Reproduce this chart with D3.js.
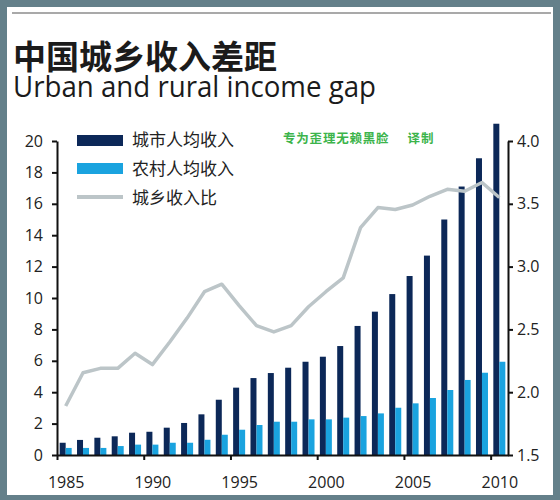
<!DOCTYPE html>
<html>
<head>
<meta charset="utf-8">
<script src="https://cdn.jsdelivr.net/npm/d3@7"></script>
<style>
  body { margin: 0; padding: 0; background: #fff; }
  text { font-family: "Open Sans", "Noto Sans", sans-serif; }
  .cjk { font-family: "Noto Sans CJK SC", sans-serif; }
</style>
</head>
<body>
<svg class="chart"></svg>
<script>
var years = [1985, 1986, 1987, 1988, 1989, 1990, 1991, 1992, 1993, 1994, 1995, 1996, 1997,
             1998, 1999, 2000, 2001, 2002, 2003, 2004, 2005, 2006, 2007, 2008, 2009, 2010];

// urban per capita income (thousand yuan)
var urban = [0.78, 0.96, 1.10, 1.19, 1.42, 1.48, 1.74, 2.04, 2.59, 3.52, 4.29, 4.90, 5.22,
             5.56, 5.94, 6.26, 6.94, 8.22, 9.13, 10.25, 11.4, 12.7, 15.0, 17.1, 18.9, 21.1];

// rural per capita income (thousand yuan)
var rural = [0.45, 0.45, 0.45, 0.57, 0.66, 0.66, 0.78, 0.78, 0.97, 1.29, 1.61, 1.91, 2.12,
             2.12, 2.27, 2.27, 2.38, 2.48, 2.65, 3.01, 3.29, 3.63, 4.14, 4.78, 5.24, 5.94];

// urban / rural ratio (right axis)
var ratio = [1.89, 2.155, 2.19, 2.19, 2.31, 2.22, 2.40, 2.59, 2.80, 2.86, 2.69, 2.53, 2.48,
             2.53, 2.68, 2.80, 2.91, 3.31, 3.47, 3.455, 3.49, 3.56, 3.615, 3.60, 3.67, 3.55];

var leftTicks = [0, 2, 4, 6, 8, 10, 12, 14, 16, 18, 20];
var rightTicks = [1.5, 2.0, 2.5, 3.0, 3.5, 4.0];
var yearTicks = [1985, 1990, 1995, 2000, 2005, 2010];

var seriesNames = ["城市人均收入", "农村人均收入", "城乡收入比"];

var screen = { width: 560, height: 500 };

var margins = { left: 57, right: 52, top: 141, bottom: 45 }; // plot area edges

var colors = {
  urban: "#0c2858",
  rural: "#1aa3df",
  ratio: "#bcc5c8",
  frame: "#64808a"
};

var svg = d3.select(".chart")
            .attr("width", screen.width)
            .attr("height", screen.height);

// frame
svg.append("rect")
   .attr("width", screen.width)
   .attr("height", screen.height)
   .attr("fill", colors.frame);

svg.append("rect")
   .attr("x", 7)
   .attr("y", 7)
   .attr("width", 546)
   .attr("height", 488)
   .attr("fill", "#fff");

svg.append("line")
   .attr("x1", 12).attr("x2", 551)
   .attr("y1", 13).attr("y2", 13)
   .attr("stroke", "#a9a9a9")
   .attr("stroke-width", 2);

// titles
svg.append("text")
   .classed("cjk", true)
   .attr("x", 13)
   .attr("y", 69)
   .attr("font-size", 33)
   .attr("font-weight", "bold")
   .attr("fill", "#1b1b1b")
   .text("中国城乡收入差距");

svg.append("text")
   .attr("x", 13)
   .attr("y", 97)
   .attr("font-size", 30)
   .attr("textLength", 363)
   .attr("lengthAdjust", "spacingAndGlyphs")
   .attr("fill", "#1b1b1b")
   .text("Urban and rural income gap");

// scales
var xScale = d3.scaleLinear()
               .domain([1985, 2011])
               .range([57, 508]);

var yScale = d3.scaleLinear()
               .domain([0, 20])
               .range([455, 141]);

var rScale = d3.scaleLinear()
               .domain([1.5, 4.0])
               .range([455, 141]);

var barW = 6;
var center = function(i) { return xScale(years[i] + 0.5); };

// bars
svg.append("g")
   .classed("urban", true)
   .selectAll("rect")
   .data(urban)
   .enter()
   .append("rect")
   .attr("x", function(d, i) { return center(i) - barW; })
   .attr("y", function(d) { return yScale(d); })
   .attr("width", barW)
   .attr("height", function(d) { return yScale(0) - yScale(d); })
   .attr("fill", colors.urban);

svg.append("g")
   .classed("rural", true)
   .selectAll("rect")
   .data(rural)
   .enter()
   .append("rect")
   .attr("x", function(d, i) { return center(i); })
   .attr("y", function(d) { return yScale(d); })
   .attr("width", barW)
   .attr("height", function(d) { return yScale(0) - yScale(d); })
   .attr("fill", colors.rural);

// ratio line
var line = d3.line()
             .x(function(d, i) { return center(i); })
             .y(function(d) { return rScale(d); });

svg.append("path")
   .datum(ratio)
   .attr("d", line)
   .attr("fill", "none")
   .attr("stroke", colors.ratio)
   .attr("stroke-width", 3.5)
   .attr("stroke-linejoin", "round");

// axes
var styleAxis = function(g) {
  g.selectAll(".domain, .tick line")
   .attr("stroke", "#111")
   .attr("stroke-width", 2);
  g.selectAll("text")
   .attr("fill", "#222")
   .attr("font-size", 16)
   .attr("font-family", "'Open Sans', sans-serif");
};

var yAxis = d3.axisLeft(yScale)
              .tickValues(leftTicks)
              .tickSize(5)
              .tickSizeOuter(0)
              .tickPadding(9);

svg.append("g")
   .classed("yAxis", true)
   .attr("transform", "translate(57,0)")
   .call(yAxis)
   .call(styleAxis);

var rAxis = d3.axisRight(rScale)
              .tickValues(rightTicks)
              .tickFormat(d3.format(".1f"))
              .tickSize(5)
              .tickSizeOuter(0)
              .tickPadding(4);

svg.append("g")
   .classed("rAxis", true)
   .attr("transform", "translate(508,0)")
   .call(rAxis)
   .call(styleAxis);

var xAxis = d3.axisBottom(xScale)
              .tickValues(yearTicks)
              .tickFormat(d3.format("d"))
              .tickSize(5)
              .tickSizeOuter(0)
              .tickPadding(17);

svg.append("g")
   .classed("xAxis", true)
   .attr("transform", "translate(0,455)")
   .call(xAxis)
   .call(styleAxis)
   .selectAll(".tick text")
   .attr("x", function(d) { return xScale(d + 0.5) - xScale(d); });

// legend
var legend = svg.append("g").classed("legend", true);

legend.append("rect")
      .attr("x", 77).attr("y", 135)
      .attr("width", 46).attr("height", 11)
      .attr("fill", colors.urban);

legend.append("rect")
      .attr("x", 77).attr("y", 163)
      .attr("width", 46).attr("height", 11)
      .attr("fill", colors.rural);

legend.append("line")
      .attr("x1", 77).attr("x2", 123)
      .attr("y1", 197).attr("y2", 197)
      .attr("stroke", colors.ratio)
      .attr("stroke-width", 4);

legend.selectAll("text")
      .data(seriesNames)
      .enter()
      .append("text")
      .classed("cjk", true)
      .attr("x", 132)
      .attr("y", function(d, i) { return 146 + i * 29; })
      .attr("font-size", 17)
      .attr("fill", "#222")
      .text(function(d) { return d; });

// translator credit
svg.append("text")
   .classed("cjk", true)
   .attr("x", 283)
   .attr("y", 143)
   .attr("font-size", 12.5)
   .attr("font-weight", "bold")
   .attr("letter-spacing", 0.8)
   .attr("fill", "#3cb44b")
   .attr("xml:space", "preserve")
   .text("专为歪理无赖黑脸     译制");
</script>
</body>
</html>
